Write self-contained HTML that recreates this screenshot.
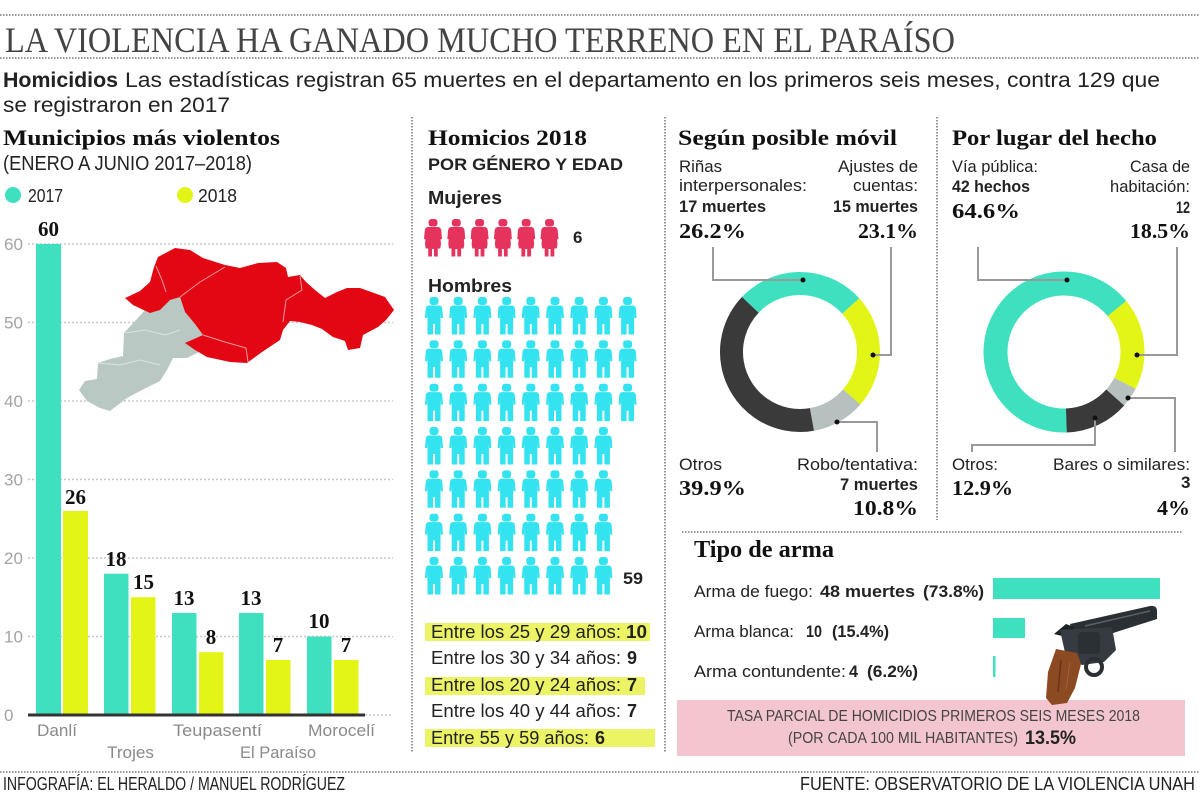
<!DOCTYPE html>
<html>
<head>
<meta charset="utf-8">
<style>
html,body{margin:0;padding:0;background:#fff;}
svg{display:block;}
.s{font-family:"Liberation Sans",sans-serif;fill:#222;}
.b{font-weight:bold;}
.r{font-family:"Liberation Serif",serif;}
.rb{font-family:"Liberation Serif",serif;font-weight:bold;fill:#111;}
.dot{stroke:#777;stroke-width:1.5;stroke-dasharray:1.5 1.5;fill:none;}
.grid{stroke:#c8c8c8;stroke-width:1.5;stroke-dasharray:2 2;}
.tick{font-family:"Liberation Sans",sans-serif;font-size:17px;fill:#a3a3a3;}
.xl{font-family:"Liberation Sans",sans-serif;font-size:17px;fill:#8a8a8a;}
.lead{stroke:#999;stroke-width:2;fill:none;}
</style>
</head>
<body>
<svg width="1200" height="798" viewBox="0 0 1200 798" xmlns="http://www.w3.org/2000/svg">
<defs>
  <symbol id="man" viewBox="0 0 18 38">
    <rect x="4.5" y="0" width="9" height="8" rx="3"/>
    <path d="M4,8.5 H14 Q16.5,8.5 17.2,11 L18,21 H15.8 L15.5,16 V37.5 H10 V27 H8 V37.5 H2.5 V16 L2.2,21 H0 L0.8,11 Q1.5,8.5 4,8.5 Z"/>
  </symbol>
  <symbol id="woman" viewBox="0 0 18 38">
    <rect x="4.5" y="0" width="9" height="7.5" rx="3"/>
    <path d="M4,8 H14 Q16.5,8 17.2,11 L18,20 L16,20.5 L15.5,16.5 Q18,24 16.2,29.5 H13.8 V37.5 H10 V30 H8 V37.5 H4.2 V29.5 H1.8 Q0,24 2.5,16.5 L2,20.5 L0,20 L0.8,11 Q1.5,8 4,8 Z"/>
  </symbol>
  <g id="r8">
    <use href="#man" x="425" y="0" width="18" height="38"/>
    <use href="#man" x="449.2" y="0" width="18" height="38"/>
    <use href="#man" x="473.4" y="0" width="18" height="38"/>
    <use href="#man" x="497.6" y="0" width="18" height="38"/>
    <use href="#man" x="521.8" y="0" width="18" height="38"/>
    <use href="#man" x="546" y="0" width="18" height="38"/>
    <use href="#man" x="570.2" y="0" width="18" height="38"/>
    <use href="#man" x="594.4" y="0" width="18" height="38"/>
  </g>
  <g id="r9">
    <use href="#r8"/>
    <use href="#man" x="618.6" y="0" width="18" height="38"/>
  </g>
</defs>

<rect width="1200" height="798" fill="#fff"/>

<!-- dotted rules -->
<line class="dot" x1="0" y1="15" x2="1200" y2="15"/>
<line class="dot" x1="0" y1="58" x2="1200" y2="58"/>
<line class="dot" x1="0" y1="772" x2="1200" y2="772"/>
<line class="dot" x1="412" y1="117" x2="412" y2="752"/>
<line class="dot" x1="665" y1="117" x2="665" y2="752"/>
<line class="dot" x1="937" y1="117" x2="937" y2="520"/>
<line class="dot" x1="682" y1="532" x2="1182" y2="532"/>

<!-- header -->
<text class="r" x="5" y="52" font-size="36" fill="#444" textLength="950" lengthAdjust="spacingAndGlyphs">LA VIOLENCIA HA GANADO MUCHO TERRENO EN EL PARAÍSO</text>
<text class="s b" x="3" y="87" font-size="21" textLength="115" lengthAdjust="spacingAndGlyphs">Homicidios</text>
<text class="s" x="125" y="87" font-size="21" textLength="1035" lengthAdjust="spacingAndGlyphs">Las estadísticas registran 65 muertes en el departamento en los primeros seis meses, contra 129 que</text>
<text class="s" x="3" y="112" font-size="21" textLength="227" lengthAdjust="spacingAndGlyphs">se registraron en 2017</text>

<!-- left: bar chart -->
<text class="rb" x="3" y="145" font-size="22" textLength="277" lengthAdjust="spacingAndGlyphs">Municipios más violentos</text>
<text class="s" x="3" y="170" font-size="20" textLength="249" lengthAdjust="spacingAndGlyphs">(ENERO A JUNIO 2017–2018)</text>
<circle cx="13" cy="195" r="8" fill="#3ee0bf"/>
<text class="s" x="28" y="202" font-size="18" textLength="35" lengthAdjust="spacingAndGlyphs">2017</text>
<circle cx="185" cy="195" r="8" fill="#e3f516"/>
<text class="s" x="198" y="202" font-size="18" textLength="39" lengthAdjust="spacingAndGlyphs">2018</text>

<!-- grid -->
<line class="grid" x1="28" y1="244" x2="393" y2="244"/>
<line class="grid" x1="28" y1="322.5" x2="393" y2="322.5"/>
<line class="grid" x1="28" y1="401" x2="393" y2="401"/>
<line class="grid" x1="28" y1="479.5" x2="393" y2="479.5"/>
<line class="grid" x1="28" y1="558" x2="393" y2="558"/>
<line class="grid" x1="28" y1="636.5" x2="393" y2="636.5"/>
<line class="grid" x1="365" y1="715" x2="393" y2="715"/>
<text class="tick" x="4" y="250">60</text>
<text class="tick" x="4" y="328.5">50</text>
<text class="tick" x="4" y="407">40</text>
<text class="tick" x="4" y="485.5">30</text>
<text class="tick" x="4" y="564">20</text>
<text class="tick" x="4" y="642.5">10</text>
<text class="tick" x="4" y="721">0</text>

<!-- map -->
<polygon fill="#b9c8c3" points="168,298 180,297 185,312 195,324 203,335 199,352 187,358 173,358 167,370 160,381 140,391 127,398 110,411 100,408 87,401 79,390 85,381 97,379 98,363 110,359 123,356 124,333 136,320 146,309 157,305"/>
<polygon fill="#e30613" points="125,298 140,291 150,282 154,267 158,257 175,248 190,250 203,258 225,265 240,268 258,263 277,262 286,268 288,277 300,275 306,282 315,290 325,298 337,292 347,288 360,288 385,297 394,310 386,320 378,327 363,335 360,348 348,350 345,341 333,337 322,329 312,325 300,322 290,321 283,330 280,340 262,352 247,363 230,362 207,357 195,350 185,343 203,335 195,324 185,312 180,297 170,300 160,310 150,313 133,305"/>
<polyline fill="none" stroke="#f19aa0" stroke-width="1" points="156,266 162,280 166,292"/>
<polyline fill="none" stroke="#f19aa0" stroke-width="1" points="180,297 200,282 225,267"/>
<polyline fill="none" stroke="#f19aa0" stroke-width="1" points="300,276 302,290 286,300 283,322"/>
<polyline fill="none" stroke="#f19aa0" stroke-width="1" points="203,335 225,342 246,348 248,362"/>
<polyline fill="none" stroke="#d9e4e0" stroke-width="1" points="125,333 145,330 165,335 180,330"/>
<polyline fill="none" stroke="#d9e4e0" stroke-width="1" points="98,363 120,365 140,360 160,365"/>

<!-- bars -->
<g fill="#3ee0bf">
  <rect x="36" y="244" width="25" height="471"/>
  <rect x="104" y="573.7" width="24.5" height="141.3"/>
  <rect x="172" y="613" width="24.5" height="102"/>
  <rect x="239" y="613" width="24.5" height="102"/>
  <rect x="307" y="636.5" width="24.5" height="78.5"/>
</g>
<g fill="#e3f516">
  <rect x="63" y="511" width="25" height="204"/>
  <rect x="131" y="597.2" width="24.5" height="117.8"/>
  <rect x="199" y="652.2" width="24.5" height="62.8"/>
  <rect x="266" y="660" width="24.5" height="55"/>
  <rect x="334" y="660" width="24.5" height="55"/>
</g>
<line x1="28" y1="715" x2="365" y2="715" stroke="#333" stroke-width="3"/>
<g class="rb" font-size="21" text-anchor="middle">
  <text x="48.5" y="236">60</text>
  <text x="75.5" y="504">26</text>
  <text x="116" y="566">18</text>
  <text x="143.5" y="589">15</text>
  <text x="184" y="605">13</text>
  <text x="211" y="644">8</text>
  <text x="251" y="605">13</text>
  <text x="278" y="652">7</text>
  <text x="319" y="628">10</text>
  <text x="346" y="652">7</text>
</g>
<text class="xl" x="37" y="736" textLength="40" lengthAdjust="spacingAndGlyphs">Danlí</text>
<text class="xl" x="107" y="758" textLength="47" lengthAdjust="spacingAndGlyphs">Trojes</text>
<text class="xl" x="173" y="736" textLength="89" lengthAdjust="spacingAndGlyphs">Teupasentí</text>
<text class="xl" x="240" y="758" textLength="76" lengthAdjust="spacingAndGlyphs">El Paraíso</text>
<text class="xl" x="308" y="736" textLength="67" lengthAdjust="spacingAndGlyphs">Morocelí</text>

<!-- middle column -->
<text class="rb" x="428" y="145" font-size="22" textLength="159" lengthAdjust="spacingAndGlyphs">Homicios 2018</text>
<text class="s b" x="428" y="170" font-size="17" textLength="195" lengthAdjust="spacingAndGlyphs">POR GÉNERO Y EDAD</text>
<text class="s b" x="428" y="204" font-size="18" textLength="74" lengthAdjust="spacingAndGlyphs">Mujeres</text>
<g fill="#e5335d">
  <use href="#woman" x="424" y="219" width="18" height="38"/>
  <use href="#woman" x="447.3" y="219" width="18" height="38"/>
  <use href="#woman" x="470.6" y="219" width="18" height="38"/>
  <use href="#woman" x="493.9" y="219" width="18" height="38"/>
  <use href="#woman" x="517.2" y="219" width="18" height="38"/>
  <use href="#woman" x="540.5" y="219" width="18" height="38"/>
</g>
<text class="s b" x="573" y="243" font-size="17">6</text>
<text class="s b" x="428" y="292" font-size="18" textLength="84" lengthAdjust="spacingAndGlyphs">Hombres</text>
<g fill="#33e3ef">
  <use href="#r9" y="297"/>
  <use href="#r9" y="340.3"/>
  <use href="#r9" y="383.6"/>
  <use href="#r8" y="427"/>
  <use href="#r8" y="470.3"/>
  <use href="#r8" y="513.6"/>
  <use href="#r8" y="557"/>
</g>
<text class="s b" x="623" y="584" font-size="17" textLength="20" lengthAdjust="spacingAndGlyphs">59</text>

<g fill="#ecf466">
  <rect x="425" y="623" width="225" height="18"/>
  <rect x="425" y="677" width="220" height="18"/>
  <rect x="425" y="729" width="230" height="18"/>
</g>
<g class="s" font-size="18">
  <text x="431" y="638" textLength="190" lengthAdjust="spacingAndGlyphs">Entre los 25 y 29 años:</text>
  <text x="626" y="638" class="b" textLength="21" lengthAdjust="spacingAndGlyphs">10</text>
  <text x="431" y="664" textLength="190" lengthAdjust="spacingAndGlyphs">Entre los 30 y 34 años:</text>
  <text x="627" y="664" class="b">9</text>
  <text x="431" y="691" textLength="190" lengthAdjust="spacingAndGlyphs">Entre los 20 y 24 años:</text>
  <text x="627" y="691" class="b">7</text>
  <text x="431" y="717" textLength="190" lengthAdjust="spacingAndGlyphs">Entre los 40 y 44 años:</text>
  <text x="627" y="717" class="b">7</text>
  <text x="431" y="744" textLength="158" lengthAdjust="spacingAndGlyphs">Entre 55 y 59 años:</text>
  <text x="595" y="744" class="b">6</text>
</g>

<!-- donut 1 -->
<text class="rb" x="678" y="145" font-size="22" textLength="219" lengthAdjust="spacingAndGlyphs">Según posible móvil</text>
<g fill="none" stroke-width="23">
  <circle cx="800" cy="352" r="68.5" stroke="#3a3a3a" stroke-dasharray="171.7 430.4" transform="rotate(79.9 800 352)"/>
  <circle cx="800" cy="352" r="68.5" stroke="#3ee0bf" stroke-dasharray="112.7 430.4" transform="rotate(-136.5 800 352)"/>
  <circle cx="800" cy="352" r="68.5" stroke="#e3f516" stroke-dasharray="99.5 430.4" transform="rotate(-42.2 800 352)"/>
  <circle cx="800" cy="352" r="68.5" stroke="#b6c0be" stroke-dasharray="46.5 430.4" transform="rotate(41 800 352)"/>
</g>
<polyline class="lead" points="803,280 713,280 713,247"/>
<polyline class="lead" points="873,355 891,355 891,247"/>
<polyline class="lead" points="837,422 877,422 877,452"/>
<g fill="#111">
  <circle cx="803" cy="280" r="2.5"/>
  <circle cx="873" cy="355" r="2.5"/>
  <circle cx="837" cy="422" r="2.5"/>
</g>
<g class="s" font-size="17">
  <text x="679" y="172" textLength="43" lengthAdjust="spacingAndGlyphs">Riñas</text>
  <text x="679" y="191" textLength="128" lengthAdjust="spacingAndGlyphs">interpersonales:</text>
  <text x="679" y="212" class="b" textLength="87" lengthAdjust="spacingAndGlyphs">17 muertes</text>
  <text x="838" y="172" textLength="80" lengthAdjust="spacingAndGlyphs">Ajustes de</text>
  <text x="853" y="191" textLength="65" lengthAdjust="spacingAndGlyphs">cuentas:</text>
  <text x="833" y="212" class="b" textLength="85" lengthAdjust="spacingAndGlyphs">15 muertes</text>
  <text x="679" y="470" textLength="43" lengthAdjust="spacingAndGlyphs">Otros</text>
  <text x="797" y="470" textLength="121" lengthAdjust="spacingAndGlyphs">Robo/tentativa:</text>
  <text x="840" y="490" class="b" textLength="78" lengthAdjust="spacingAndGlyphs">7 muertes</text>
</g>
<g class="rb" font-size="21">
  <text x="679" y="238" textLength="67" lengthAdjust="spacingAndGlyphs">26.2%</text>
  <text x="858" y="238" textLength="60" lengthAdjust="spacingAndGlyphs">23.1%</text>
  <text x="679" y="495" textLength="67" lengthAdjust="spacingAndGlyphs">39.9%</text>
  <text x="853" y="515" textLength="65" lengthAdjust="spacingAndGlyphs">10.8%</text>
</g>

<!-- donut 2 -->
<text class="rb" x="952" y="145" font-size="22" textLength="205" lengthAdjust="spacingAndGlyphs">Por lugar del hecho</text>
<g fill="none" stroke-width="24">
  <circle cx="1064" cy="352" r="68.5" stroke="#3ee0bf" stroke-dasharray="278.1 430.4" transform="rotate(88 1064 352)"/>
  <circle cx="1064" cy="352" r="68.5" stroke="#e3f516" stroke-dasharray="79.6 430.4" transform="rotate(-39.4 1064 352)"/>
  <circle cx="1064" cy="352" r="68.5" stroke="#b6c0be" stroke-dasharray="17.2 430.4" transform="rotate(27.2 1064 352)"/>
  <circle cx="1064" cy="352" r="68.5" stroke="#3a3a3a" stroke-dasharray="55.5 430.4" transform="rotate(41.6 1064 352)"/>
</g>
<polyline class="lead" points="1067,280 978,280 978,247"/>
<polyline class="lead" points="1137,355 1177,355 1177,247"/>
<polyline class="lead" points="1128,398 1175,398 1175,452"/>
<polyline class="lead" points="1095,418 1095,445 972,445 972,452"/>
<g fill="#111">
  <circle cx="1067" cy="280" r="2.5"/>
  <circle cx="1137" cy="355" r="2.5"/>
  <circle cx="1128" cy="398" r="2.5"/>
  <circle cx="1095" cy="418" r="2.5"/>
</g>
<g class="s" font-size="17">
  <text x="952" y="172" textLength="86" lengthAdjust="spacingAndGlyphs">Vía pública:</text>
  <text x="952" y="192" class="b" textLength="78" lengthAdjust="spacingAndGlyphs">42 hechos</text>
  <text x="1130" y="172" textLength="60" lengthAdjust="spacingAndGlyphs">Casa de</text>
  <text x="1110" y="192" textLength="80" lengthAdjust="spacingAndGlyphs">habitación:</text>
  <text x="1176" y="213" class="b" textLength="14" lengthAdjust="spacingAndGlyphs">12</text>
  <text x="952" y="470" textLength="46" lengthAdjust="spacingAndGlyphs">Otros:</text>
  <text x="1053" y="470" textLength="137" lengthAdjust="spacingAndGlyphs">Bares o similares:</text>
  <text x="1181" y="488" class="b">3</text>
</g>
<g class="rb" font-size="21">
  <text x="952" y="218" textLength="68" lengthAdjust="spacingAndGlyphs">64.6%</text>
  <text x="1130" y="238" textLength="60" lengthAdjust="spacingAndGlyphs">18.5%</text>
  <text x="952" y="495" textLength="61" lengthAdjust="spacingAndGlyphs">12.9%</text>
  <text x="1157" y="515" textLength="33" lengthAdjust="spacingAndGlyphs">4%</text>
</g>

<!-- tipo de arma -->
<text class="rb" x="694" y="557" font-size="24" textLength="140" lengthAdjust="spacingAndGlyphs">Tipo de arma</text>
<g class="s" font-size="17">
  <text x="694" y="597" textLength="119" lengthAdjust="spacingAndGlyphs">Arma de fuego:</text>
  <text x="820" y="597" class="b" textLength="95" lengthAdjust="spacingAndGlyphs">48 muertes</text>
  <text x="923" y="597" class="b" textLength="61" lengthAdjust="spacingAndGlyphs">(73.8%)</text>
  <text x="694" y="637" textLength="100" lengthAdjust="spacingAndGlyphs">Arma blanca:</text>
  <text x="806" y="637" class="b" textLength="16" lengthAdjust="spacingAndGlyphs">10</text>
  <text x="832" y="637" class="b" textLength="57" lengthAdjust="spacingAndGlyphs">(15.4%)</text>
  <text x="694" y="677" textLength="152" lengthAdjust="spacingAndGlyphs">Arma contundente:</text>
  <text x="849" y="677" class="b" textLength="9" lengthAdjust="spacingAndGlyphs">4</text>
  <text x="867" y="677" class="b" textLength="51" lengthAdjust="spacingAndGlyphs">(6.2%)</text>
</g>
<g fill="#3ee0bf">
  <rect x="993" y="578" width="167" height="21"/>
  <rect x="993" y="618" width="32" height="20"/>
  <rect x="993" y="656" width="2.5" height="21"/>
</g>

<!-- pink box -->
<rect x="677" y="700" width="508" height="56" fill="#f3c5ce"/>
<text class="s" x="727" y="721" font-size="16" style="fill:#444" textLength="413" lengthAdjust="spacingAndGlyphs">TASA PARCIAL DE HOMICIDIOS PRIMEROS SEIS MESES 2018</text>
<text class="s" x="788" y="743" font-size="16" style="fill:#444" textLength="230" lengthAdjust="spacingAndGlyphs">(POR CADA 100 MIL HABITANTES)</text>
<text class="s b" x="1025" y="744" font-size="19" textLength="51" lengthAdjust="spacingAndGlyphs">13.5%</text>

<!-- revolver -->
<g>
  <path d="M1070,624 L1150,606 Q1157,605 1157,611 L1157,619 L1110,634 L1074,640 Z" fill="#2a2f33"/>
  <path d="M1085,626 L1150,611" stroke="#5a6168" stroke-width="1.5" fill="none"/>
  <polygon points="1054,634 1066,624 1074,627 1070,638" fill="#1e2225"/>
  <path d="M1060,630 L1112,627 L1116,650 L1104,662 L1082,665 L1066,657 Z" fill="#353b40"/>
  <rect x="1078" y="632" width="22" height="22" rx="4" fill="#2b3034"/>
  <circle cx="1094" cy="667" r="8" fill="none" stroke="#2a2f33" stroke-width="4"/>
  <polygon points="1056,649 1077,653 1081,664 1075,688 1067,703 1052,705 1046,698 1048,672" fill="#8b4a22"/>
  <polyline points="1061,660 1058,692" stroke="#6a3316" stroke-width="1.5" fill="none"/>
  <polyline points="1070,662 1066,690" stroke="#a0602e" stroke-width="1" fill="none"/>
</g>

<!-- footer -->
<text class="s" x="3" y="790" font-size="18" textLength="342" lengthAdjust="spacingAndGlyphs">INFOGRAFÍA: EL HERALDO / MANUEL RODRÍGUEZ</text>
<text class="s" x="800" y="790" font-size="18" textLength="395" lengthAdjust="spacingAndGlyphs">FUENTE: OBSERVATORIO DE LA VIOLENCIA UNAH</text>
</svg>
</body>
</html>
